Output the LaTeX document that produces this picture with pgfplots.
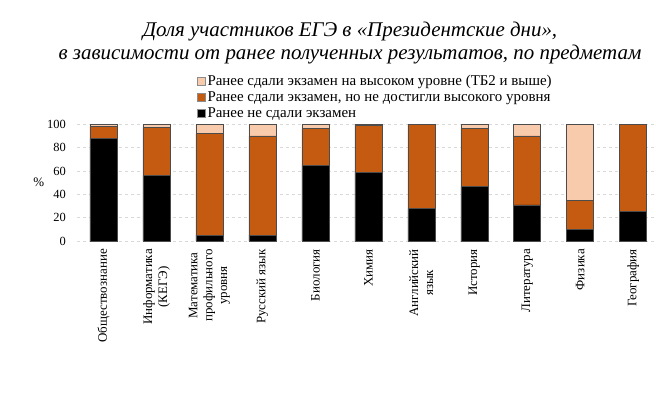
\documentclass[border=0pt]{standalone}
\usepackage{pgfplots}
\pgfplotsset{compat=1.18}
\usepackage{pgfplotstable}
\usepackage{fontspec}
\setmainfont{Liberation Serif}
\definecolor{cBlack}{HTML}{000000}
\definecolor{cOrange}{HTML}{C55A11}
\definecolor{cLight}{HTML}{F8CBAD}
\definecolor{cGrid}{HTML}{D9D9D9}
\pgfplotstableread{
idx black orange light
0 88.0 10.3 1.7
1 56.3 41.1 2.6
2 5.1 87.2 7.7
3 5.1 84.9 10.0
4 64.9 31.7 3.4
5 58.6 40.8 0.6
6 27.7 72.3 0.0
7 46.9 49.7 3.4
8 30.9 59.1 10.0
9 10.0 25.1 64.9
10 25.1 74.9 0.0
}\datatable
\begin{document}
\begin{tikzpicture}
\path[use as bounding box] (-77bp,-157bp) rectangle (579bp,241bp);
\begin{axis}[
  at={(0,0)}, anchor=south west,
  scale only axis,
  width=579bp, height=116.7bp,
  ybar stacked,
  bar width=27bp,
  xmin=-0.5, xmax=10.43,
  ymin=0, ymax=100,
  ytick={0,20,...,100},
  xtick={0,...,10},
  xticklabels={
    Обществознание,
    {Информатика\\(КЕГЭ)},
    {Математика\\профильного\\уровня},
    Русский язык,
    Биология,
    Химия,
    {Английский\\язык},
    История,
    Литература,
    Физика,
    География},
  x tick label style={yshift=-8bp, rotate=90, anchor=east, align=center, font=\fontsize{13}{15}\selectfont, inner sep=0pt},
  major x tick style={draw=none},
  major y tick style={draw=none},
  y tick label style={font=\fontsize{12.5}{14}\selectfont, inner sep=0pt, xshift=-11bp},
  /pgf/number format/assume math mode=true,
  ymajorgrids,
  grid style={cGrid, dashed, line width=0.8pt},
  axis line style={draw=none},
  ylabel={\%},
  ylabel style={rotate=-90, at={(rel axis cs:-0.066,0.5)}, anchor=center, font=\fontsize{13}{14}\selectfont},
  legend style={at={(0.207,1.44)}, anchor=north west, draw=none, fill=none,
    font=\fontsize{15}{16}\selectfont, row sep=0.8bp, inner sep=0pt,
    cells={anchor=west}},
  legend image code/.code={\draw[#1, draw=black!45, line width=0.5pt] (0bp,-4bp) rectangle (8bp,4bp);},
  reverse legend,
  every axis plot/.append style={draw=black!70, line width=0.6pt},
]
\addplot[fill=cBlack] table[x=idx, y=black] {\datatable};
\addplot[fill=cOrange] table[x=idx, y=orange] {\datatable};
\addplot[fill=cLight] table[x=idx, y=light] {\datatable};
\legend{Ранее не сдали экзамен, {Ранее сдали экзамен, но не достигли высокого уровня}, Ранее сдали экзамен на высоком уровне (ТБ2 и выше)}
\end{axis}
\node[anchor=base, font=\fontsize{21}{24}\selectfont\itshape] at (273bp,204bp) {Доля участников ЕГЭ в «Президентские дни»,};
\node[anchor=base, font=\fontsize{21}{24}\selectfont\itshape] at (273bp,181bp) {в зависимости от ранее полученных результатов, по предметам};
\end{tikzpicture}
\end{document}
